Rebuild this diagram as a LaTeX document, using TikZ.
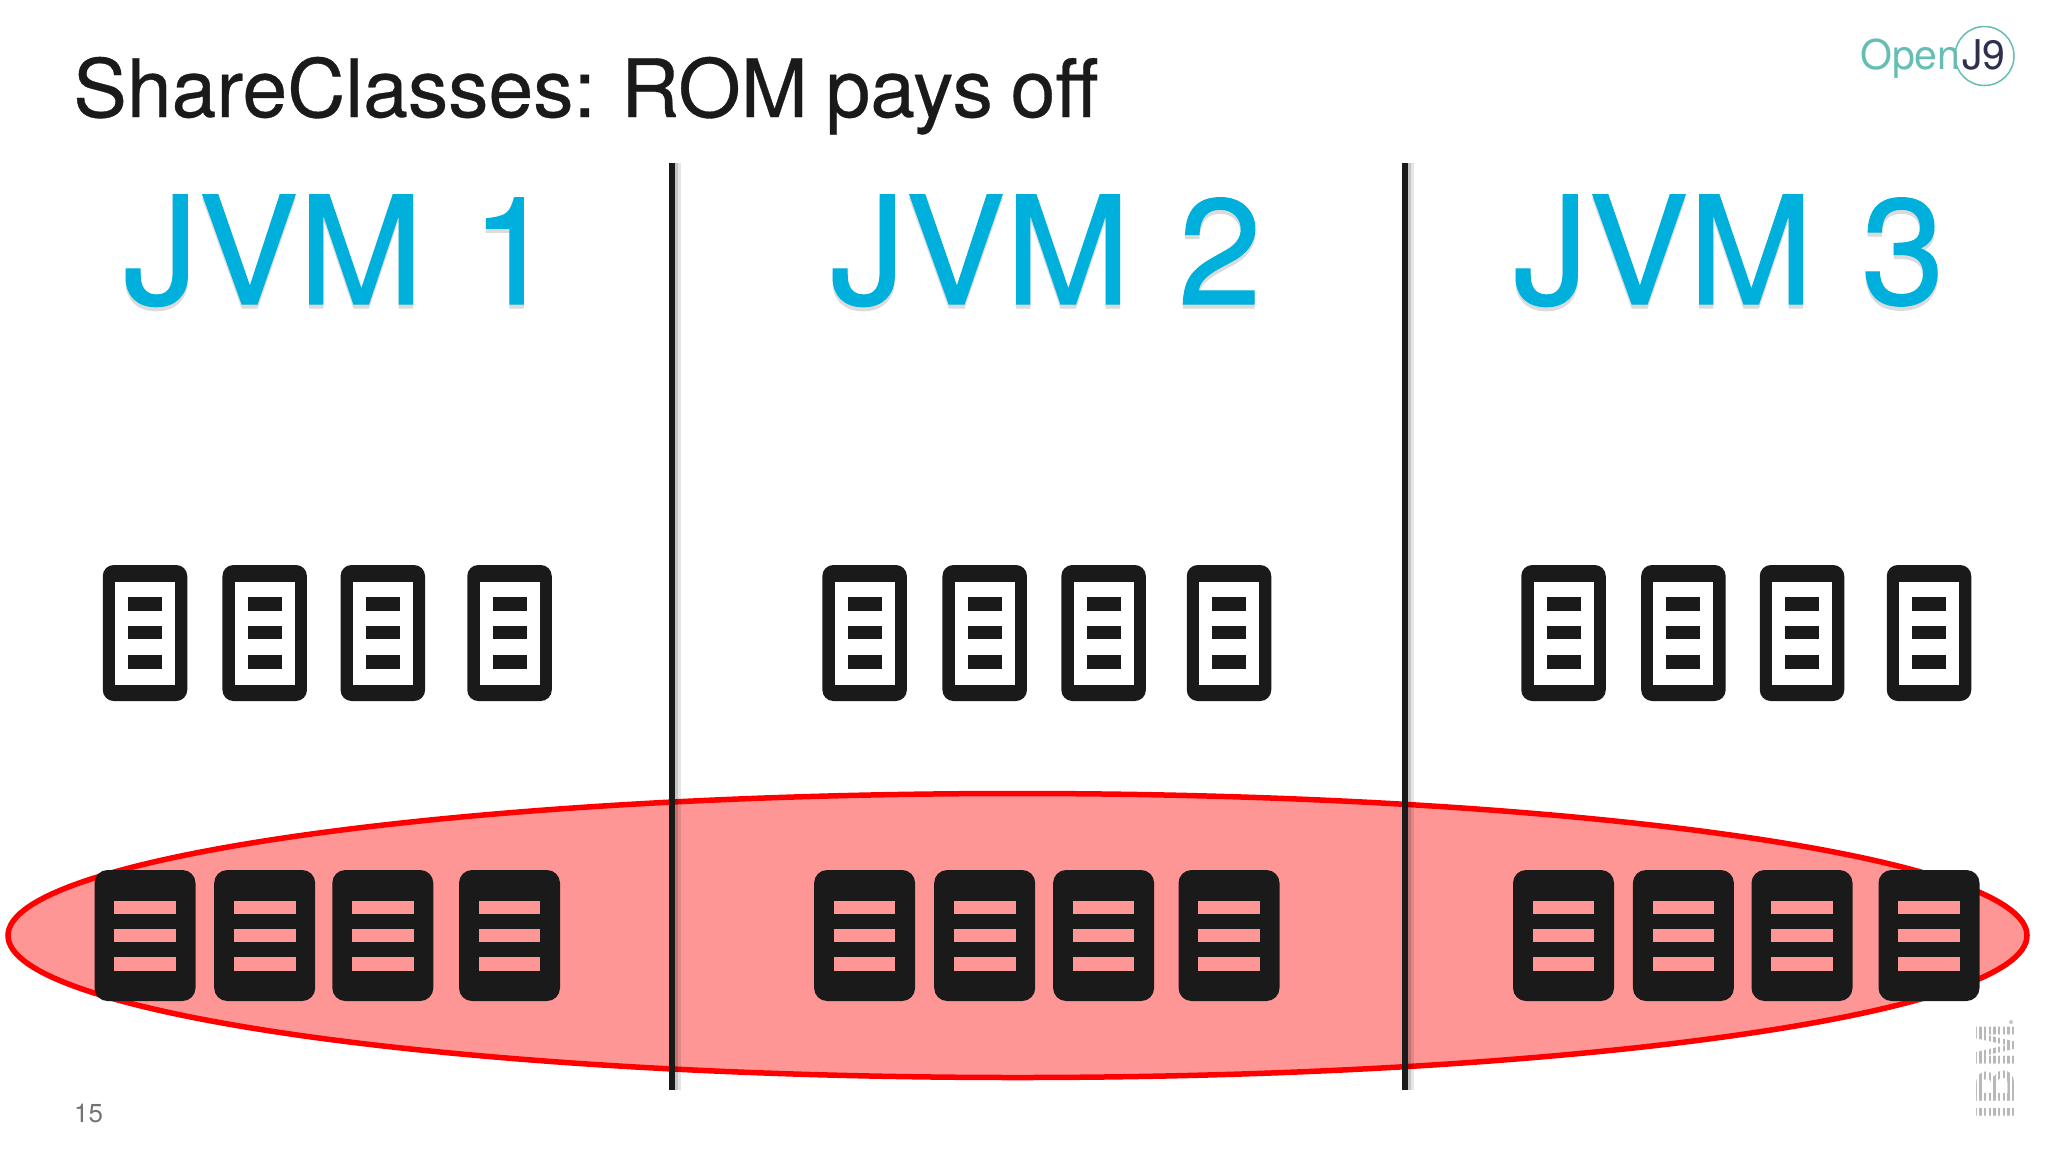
\documentclass[tikz,border=0pt]{standalone}
\usepackage{fontspec}
\setmainfont{TeX Gyre Heros}
\newfontfamily\titlefont[WordSpace=0.8,FakeBold=0.4]{TeX Gyre Heros}
\newfontfamily\jvmfont[WordSpace=1.15,FakeBold=0.8]{TeX Gyre Heros}
\usetikzlibrary{shapes.geometric}
\definecolor{jvmblue}{HTML}{00B0DC}
\definecolor{iconblack}{HTML}{1A1A1A}
\definecolor{rompink}{HTML}{FF9696}
\definecolor{logoteal}{HTML}{66BDB3}
\definecolor{logodark}{HTML}{2F2F4F}
\newcommand{\softshadow}[1]{\rlap{\raisebox{-4pt}{\color{black!14}#1}}#1}

\begin{document}
\begin{tikzpicture}[
  x=1pt, y=-1pt,
  title text/.style={
    anchor=base west, inner sep=0pt, text=iconblack, font=\titlefont\fontsize{80.5}{81}\selectfont,
  },
  jvm text/.style={
    anchor=base, inner sep=0pt, text=jvmblue, font=\jvmfont\fontsize{150}{150}\selectfont,
  },
  page number/.style={
    anchor=base west, inner sep=0pt, text=black!55, font=\fontsize{26}{26}\selectfont,
  },
  logo text/.style={
    anchor=base west, inner sep=0pt, font=\fontsize{41}{41}\selectfont,
  },
  divider/.style={
    draw=iconblack, line width=6pt,
    preaction={draw=black, opacity=.10, line width=8pt, transform canvas={xshift=5pt}},
    preaction={draw=black, opacity=.14, line width=4pt, transform canvas={xshift=4pt}},
  },
  rom area/.style={
    draw=red, fill=rompink, line width=5.5pt, ellipse, inner sep=0pt,
    minimum width=2019pt, minimum height=284pt,
  },
  upper icon/.style={
    fill=iconblack, rounded corners=11pt, inner sep=0pt,
    minimum width=84.5pt, minimum height=136pt,
  },
  upper window/.style={
    fill=white, inner sep=0pt, minimum width=60pt, minimum height=103pt,
  },
  upper bar/.style={
    fill=iconblack, inner sep=0pt, minimum width=34pt, minimum height=13.5pt,
  },
  lower icon/.style={
    fill=iconblack, rounded corners=13pt, inner sep=0pt,
    minimum width=101pt, minimum height=131pt,
  },
  lower bar/.style={
    fill=rompink, inner sep=0pt, minimum width=61.7pt, minimum height=13.3pt,
  },
  ]
  \useasboundingbox (0,0) rectangle (2048,1152);

  \node[title text] (title) at (73,117) {ShareClasses: ROM pays off};
  \node[jvm text] (jvm1) at (339,304) {\softshadow{JVM 1}};
  \node[jvm text] (jvm2) at (1046,304) {\softshadow{JVM 2}};
  \node[jvm text] (jvm3) at (1729,304) {\softshadow{JVM 3}};

  % shared area
  \node[rom area] (rom) at (1017.5,935.5) {};

  % dividers
  \coordinate (div1 top) at (672.3,163);
  \coordinate (div1 bottom) at (672.3,1090);
  \coordinate (div2 top) at (1405,163);
  \coordinate (div2 bottom) at (1405,1090);
  \draw[divider] (div1 top) -- (div1 bottom);
  \draw[divider] (div2 top) -- (div2 bottom);

  % icons
  \foreach \name/\xpos in {a/145, b/264.7, c/382.8, d/509.5,
                           e/864.6, f/984.7, g/1103.6, h/1229,
                           i/1563.5, j/1683.4, k/1802, l/1929} {
    \node[upper icon] (up\name) at (\xpos,633) {};
    \node[upper window] (win\name) at (up\name) {};
    \node[upper bar] at (\xpos,604) {};
    \node[upper bar] at (\xpos,632.7) {};
    \node[upper bar] at (\xpos,662) {};
    \node[lower icon] (low\name) at (\xpos,935.5) {};
    \node[lower bar] at (\xpos,907.3) {};
    \node[lower bar] at (\xpos,935.7) {};
    \node[lower bar] at (\xpos,964) {};
  }

  \node[page number] (pagenum) at (74,1122) {15};

  % openj9 logo
  \node[draw=logoteal, line width=1.5pt, circle, inner sep=0pt, minimum size=59pt] (ring) at (1984.5,56) {};
  \node[logo text, text=logoteal] (open) at (1860,69) {Open};
  \node[logo text, text=logodark] (jnine) at (1962,69) {J9};

  % ibm logo
  \node[anchor=base, rotate=90, inner sep=0pt, text=black!28,
        font=\bfseries\fontsize{52}{52}\selectfont] (ibm) at (2014,1072) {IBM};
  \foreach \xpos in {1978,1982.7,...,2016} {
    \fill[white] (\xpos-1.1,1022) rectangle (\xpos+1.1,1122);
  }
  \node[fill=black!22, circle, inner sep=0pt, minimum size=4pt] (reg) at (2011,1022) {};
\end{tikzpicture}
\end{document}
